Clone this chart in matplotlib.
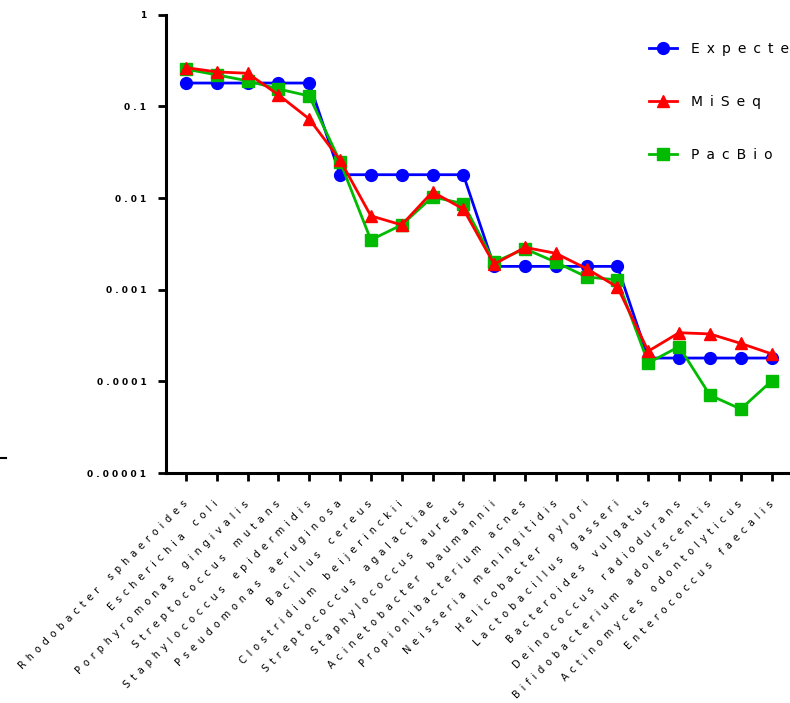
import matplotlib
matplotlib.use("Agg")
import matplotlib.pyplot as plt
from matplotlib.lines import Line2D
import numpy as np

species = ["Rhodobacter sphaeroides", "Escherichia coli", "Porphyromonas gingivalis",
           "Streptococcus mutans", "Staphylococcus epidermidis", "Pseudomonas aeruginosa",
           "Bacillus cereus", "Clostridium beijerinckii", "Streptococcus agalactiae",
           "Staphylococcus aureus", "Acinetobacter baumannii", "Propionibacterium acnes",
           "Neisseria meningitidis", "Helicobacter pylori", "Lactobacillus gasseri",
           "Bacteroides vulgatus", "Deinococcus radiodurans", "Bifidobacterium adolescentis",
           "Actinomyces odontolyticus", "Enterococcus faecalis"]

expected = [0.18, 0.18, 0.18, 0.18, 0.18,
            0.018, 0.018, 0.018, 0.018, 0.018,
            0.0018, 0.0018, 0.0018, 0.0018, 0.0018,
            0.00018, 0.00018, 0.00018, 0.00018, 0.00018]
miseq = [0.265, 0.238, 0.23, 0.134, 0.073,
         0.026, 0.0064, 0.0051, 0.0117, 0.0076,
         0.0019, 0.0029, 0.0025, 0.0017, 0.00107,
         0.000214, 0.00034, 0.00033, 0.00026, 0.0002]
pacbio = [0.255, 0.221, 0.19, 0.155, 0.13,
          0.025, 0.0035, 0.0051, 0.0103, 0.0087,
          0.002, 0.0028, 0.002, 0.00138, 0.00128,
          0.000159, 0.00024, 0.0000709, 0.00005, 0.000101]

yticks = [1, 0.1, 0.01, 0.001, 0.0001, 0.00001]
ytick_labels = ["1", "0.1", "0.01", "0.001", "0.0001", "0.00001"]


def spaced(s, gap="\u2002", word="\u2002\u2002\u2002"):
    return word.join(gap.join(w) for w in s.split(" "))


fig = plt.figure(figsize=(7.9, 7.03), dpi=100)
ax = fig.add_axes([0.210, 0.327, 0.792, 0.652])

x = np.arange(len(species))
ax.plot(x, expected, color="#0000ff", marker="o", ms=8.5, lw=2, label=spaced("Expected"), zorder=3)
ax.plot(x, pacbio, color="#00bb00", marker="s", ms=8.5, lw=2, label=spaced("PacBio"), zorder=4)
ax.plot(x, miseq, color="#ff0000", marker="^", ms=9, lw=2, label=spaced("MiSeq"), zorder=5)

ax.set_yscale("log")
ax.set_ylim(1e-5, 1)
ax.set_xlim(-0.65, len(species) - 0.35)
ax.yaxis.set_minor_locator(matplotlib.ticker.NullLocator())
ax.set_yticks(yticks)
ax.set_yticklabels([" ".join(t) for t in ytick_labels], fontsize=6.5, fontweight="bold")
ax.set_xticks(x)
ax.set_xticklabels([spaced(s) for s in species], rotation=45, ha="right", va="center",
                   rotation_mode="anchor", fontsize=7)

for side in ["top", "right"]:
    ax.spines[side].set_visible(False)
for side in ["left", "bottom"]:
    ax.spines[side].set_linewidth(2.2)
ax.tick_params(axis="both", width=2, length=6)
ax.tick_params(axis="x", pad=15)
ax.tick_params(axis="y", pad=8)

h, l = ax.get_legend_handles_labels()
order = [0, 2, 1]
leg = fig.legend([h[i] for i in order], [l[i] for i in order], loc="upper left",
                 bbox_to_anchor=(0.806, 0.958), frameon=False, fontsize=10,
                 handlelength=2, handletextpad=1.0, labelspacing=2.8)

fig.add_artist(Line2D([0.0, 0.008], [1 - 458 / 703, 1 - 458 / 703], color="black", lw=1.5))

fig.savefig("out.png", dpi=100)
